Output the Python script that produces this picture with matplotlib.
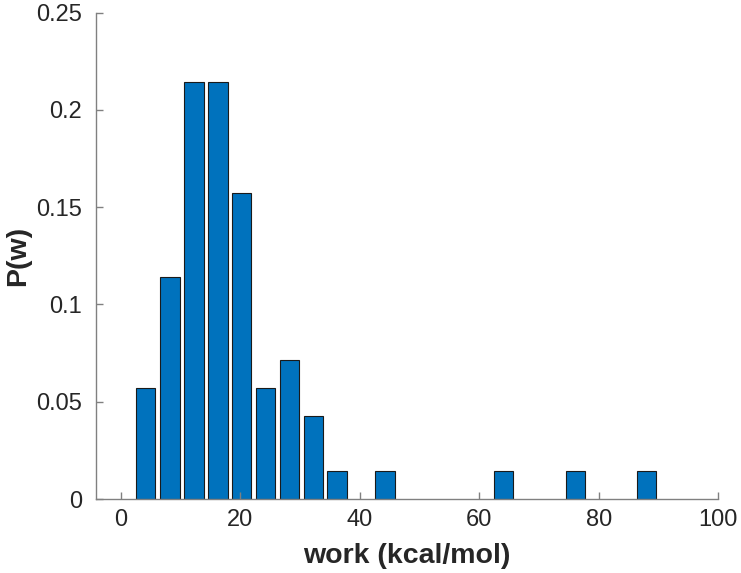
import numpy as np
import matplotlib
matplotlib.use("Agg")
import matplotlib.pyplot as plt

# bin centres (kcal/mol) and probability of each bin
work_centers = [4.1, 8.2, 12.2, 16.2, 20.2, 24.2, 28.2, 32.2, 36.2, 44.2, 64.1, 76.1, 88.0]
prob = [0.0571, 0.1143, 0.2143, 0.2143, 0.1571, 0.0571, 0.0714, 0.0429, 0.0143,
        0.0143, 0.0143, 0.0143, 0.0143]

x_ticks = [0, 20, 40, 60, 80, 100]
y_ticks = [0, 0.05, 0.1, 0.15, 0.2, 0.25]
y_tick_labels = ["0", "0.05", "0.1", "0.15", "0.2", "0.25"]

plt.rcParams["font.family"] = ["Liberation Sans", "DejaVu Sans"]

fig = plt.figure(figsize=(7.41, 5.73), dpi=100)
ax = fig.add_axes([0.1296, 0.129, 0.8394, 0.849])

ax.bar(work_centers, prob, width=3.25, color="#0072BD",
       edgecolor="#1a1a1a", linewidth=0.8)

ax.set_xlim(-4.2, 100)
ax.set_ylim(0, 0.25)
ax.set_xticks(x_ticks)
ax.set_yticks(y_ticks)
ax.set_yticklabels(y_tick_labels)

for side in ["top", "right"]:
    ax.spines[side].set_visible(False)
for side in ["left", "bottom"]:
    ax.spines[side].set_color("#808080")
    ax.spines[side].set_linewidth(1.0)

ax.tick_params(direction="in", length=5, width=1, color="#808080",
               labelsize=17, labelcolor="#262626")
ax.tick_params(axis="x", pad=7)
ax.tick_params(axis="y", pad=10)

ax.set_xlabel("work (kcal/mol)", fontsize=20.5, fontweight="bold", color="#262626", labelpad=9)
ax.set_ylabel("P(w)", fontsize=20.5, fontweight="bold", color="#262626", labelpad=4)

fig.savefig("out.png", dpi=100)
